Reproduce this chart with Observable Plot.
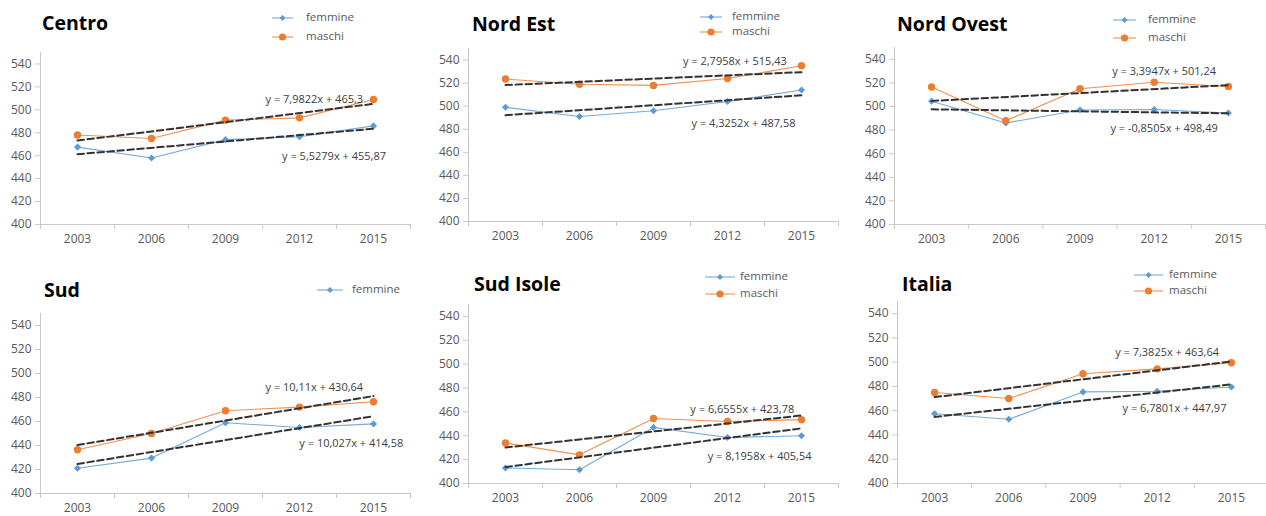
<!DOCTYPE html>
<html><head><meta charset="utf-8">
<script src="https://cdn.jsdelivr.net/npm/d3@7"></script>
<script src="https://cdn.jsdelivr.net/npm/@observablehq/plot@0.6"></script>
<style>
html,body{margin:0;padding:0;background:#fff;}
#root{position:relative;width:1266px;height:516px;overflow:hidden;background:#fff;font-family:"Open Sans",sans-serif;}
.psvg{position:absolute;}
.title{position:absolute;font-weight:700;font-size:19.5px;color:#000;line-height:1;white-space:nowrap;}
.legt{position:absolute;font-size:11.5px;color:#595959;line-height:1;white-space:nowrap;}
.legs{position:absolute;}
</style></head><body><div id="root"></div>
<script>
// ---- data ----
const years = [2003, 2006, 2009, 2012, 2015];
const regioni = ["Centro", "Nord Est", "Nord Ovest", "Sud", "Sud Isole", "Italia"];
const femmineCentro    = [467.5, 458, 474, 476.5, 486];
const maschiCentro     = [478, 475, 491, 493, 509];
const femmineNordEst   = [499, 491, 496, 504, 514];
const maschiNordEst    = [523.5, 519, 518, 524, 535];
const femmineNordOvest = [504.5, 486, 497, 497.5, 494.5];
const maschiNordOvest  = [516.5, 488, 515, 520.5, 517];
const femmineSud       = [421, 429.5, 459, 455, 458];
const maschiSud        = [436.5, 450, 469, 472, 476.5];
const femmineSudIsole  = [413, 411.5, 447, 438.5, 440];
const maschiSudIsole   = [434, 424, 454.5, 452, 453.5];
const femmineItalia    = [457.5, 453, 475.5, 476, 479.5];
const maschiItalia     = [475, 470, 490.5, 494.5, 499.5];
const eqMaschi  = ["y = 7,9822x + 465,3", "y = 2,7958x + 515,43", "y = 3,3947x + 501,24", "y = 10,11x + 430,64", "y = 6,6555x + 423,78", "y = 7,3825x + 463,64"];
const eqFemmine = ["y = 5,5279x + 455,87", "y = 4,3252x + 487,58", "y = -0,8505x + 498,49", "y = 10,027x + 414,58", "y = 8,1958x + 405,54", "y = 6,7801x + 447,97"];
const yTicks = [400, 420, 440, 460, 480, 500, 520, 540];
const catEdges = [2001.5, 2004.5, 2007.5, 2010.5, 2013.5, 2016.5];
const seriesLabels = ["femmine", "maschi"];

const F = [femmineCentro, femmineNordEst, femmineNordOvest, femmineSud, femmineSudIsole, femmineItalia];
const M = [maschiCentro, maschiNordEst, maschiNordOvest, maschiSud, maschiSudIsole, maschiItalia];

// ---- layout ----
const layout = [
  {x0: 40,  x1: 410,  yt: 52,  yb: 224, tx: 42,  tb: 30.5, lx: [272, 293], ltx: 306, ly: [18, 37],  em: [2012.6, 509.3], ef: [2013.4, 459.6], legN: 2},
  {x0: 468, x1: 838,  yt: 48,  yb: 221, tx: 472, tb: 31,   lx: [700, 722], ltx: 732, ly: [17, 32],  em: [2012.3, 539.1], ef: [2012.65, 485], legN: 2},
  {x0: 894, x1: 1265, yt: 47,  yb: 224, tx: 897, tb: 31,   lx: [1113, 1136], ltx: 1148, ly: [20, 38], em: [2012.4, 529.6], ef: [2012.4, 481], legN: 2},
  {x0: 40,  x1: 410,  yt: 313, yb: 493, tx: 44,  tb: 297.5, lx: [317, 343], ltx: 352, ly: [290],   em: [2012.6, 488.2], ef: [2014.1, 442], legN: 1},
  {x0: 468, x1: 838,  yt: 304, yb: 483, tx: 474, tb: 291,  lx: [705, 735], ltx: 740, ly: [277, 294], em: [2012.6, 462.4], ef: [2013.3, 422.6], legN: 2},
  {x0: 897, x1: 1268, yt: 301, yb: 483, tx: 902, tb: 291,  lx: [1134, 1163], ltx: 1169, ly: [275, 291], em: [2012.4, 507.8], ef: [2012.7, 461.7], legN: 2}
];

const BLUE = "#5B9BD5", ORANGE = "#ED7D31", AXIS = "#c8c8c8";
const root = document.getElementById("root");

function addDiv(cls, text, left, top) {
  const d = document.createElement("div");
  d.className = cls; d.textContent = text;
  d.style.left = left + "px"; d.style.top = top + "px";
  root.appendChild(d);
  return d;
}

function swatch(color, symbol, x0, x1, y) {
  const w = x1 - x0;
  const ns = "http://www.w3.org/2000/svg";
  const s = document.createElementNS(ns, "svg");
  s.setAttribute("class", "legs");
  s.setAttribute("width", w + 8); s.setAttribute("height", 10);
  s.style.left = (x0 - 4) + "px"; s.style.top = (y - 5) + "px";
  const l = document.createElementNS(ns, "line");
  l.setAttribute("x1", 4); l.setAttribute("x2", w + 4); l.setAttribute("y1", 5); l.setAttribute("y2", 5);
  l.setAttribute("stroke", color); l.setAttribute("stroke-width", 1.1); l.setAttribute("stroke-opacity", 0.85);
  s.appendChild(l);
  const cx = 4 + w / 2;
  if (symbol === "diamond") {
    const p = document.createElementNS(ns, "path");
    p.setAttribute("d", `M${cx},2L${cx + 3},5L${cx},8L${cx - 3},5Z`);
    p.setAttribute("fill", color); s.appendChild(p);
  } else {
    const c = document.createElementNS(ns, "circle");
    c.setAttribute("cx", cx); c.setAttribute("cy", 5); c.setAttribute("r", 3.6);
    c.setAttribute("fill", color); s.appendChild(c);
  }
  root.appendChild(s);
}

layout.forEach((L, i) => {
  const f = years.map((a, j) => ({anno: a, punteggio: F[i][j]}));
  const m = years.map((a, j) => ({anno: a, punteggio: M[i][j]}));
  const ml = 44, mr = 6, mt = 6, mb = 30;
  const chart = Plot.plot({
    width: L.x1 - L.x0 + ml + mr,
    height: L.yb - L.yt + mt + mb,
    marginLeft: ml, marginRight: mr, marginTop: mt, marginBottom: mb,
    style: {fontFamily: "Open Sans", fontSize: "12px", color: "#595959", background: "transparent", overflow: "visible"},
    x: {type: "linear", domain: [2001.5, 2016.5]},
    y: {domain: [400, 550]},
    marks: [
      Plot.frame({anchor: "left", stroke: AXIS}),
      Plot.frame({anchor: "bottom", stroke: AXIS}),
      Plot.axisY({ticks: yTicks, tickSize: 5, tickPadding: 4, label: null, stroke: AXIS, fill: "#595959", tickFormat: "d"}),
      Plot.axisX({ticks: years, tickSize: 0, tickPadding: 10, label: null, fill: "#595959", tickFormat: "d"}),
      Plot.axisX({ticks: catEdges, tickSize: 5, label: null, stroke: AXIS, tickFormat: () => ""}),
      Plot.line(f, {x: "anno", y: "punteggio", stroke: BLUE, strokeWidth: 1.1, strokeOpacity: 0.85}),
      Plot.line(m, {x: "anno", y: "punteggio", stroke: ORANGE, strokeWidth: 1.1, strokeOpacity: 0.85}),
      Plot.dot(f, {x: "anno", y: "punteggio", symbol: "diamond2", r: 3.2, fill: BLUE, stroke: "none"}),
      Plot.dot(m, {x: "anno", y: "punteggio", symbol: "circle", r: 3.7, fill: ORANGE, stroke: "none"}),
      Plot.linearRegressionY(m, {x: "anno", y: "punteggio", ci: 0, stroke: "#333", strokeWidth: 2, strokeDasharray: "6.5,3.5"}),
      Plot.linearRegressionY(f, {x: "anno", y: "punteggio", ci: 0, stroke: "#333", strokeWidth: 2, strokeDasharray: "6.5,3.5"}),
      Plot.text([{t: eqMaschi[i], a: L.em[0], p: L.em[1]}, {t: eqFemmine[i], a: L.ef[0], p: L.ef[1]}],
        {x: "a", y: "p", text: "t", fill: "#404040", fontSize: 11, textAnchor: "middle"})
    ]
  });
  chart.classList.add("psvg");
  chart.style.left = (L.x0 - ml) + "px";
  chart.style.top = (L.yt - mt) + "px";
  root.appendChild(chart);

  addDiv("title", regioni[i], L.tx, L.tb - 17.3);
  for (let k = 0; k < L.legN; k++) {
    swatch(k === 0 ? BLUE : ORANGE, k === 0 ? "diamond" : "circle", L.lx[0], L.lx[1], L.ly[k]);
    addDiv("legt", seriesLabels[k], L.ltx, L.ly[k] - 7.1);
  }
});
</script>
</body></html>
